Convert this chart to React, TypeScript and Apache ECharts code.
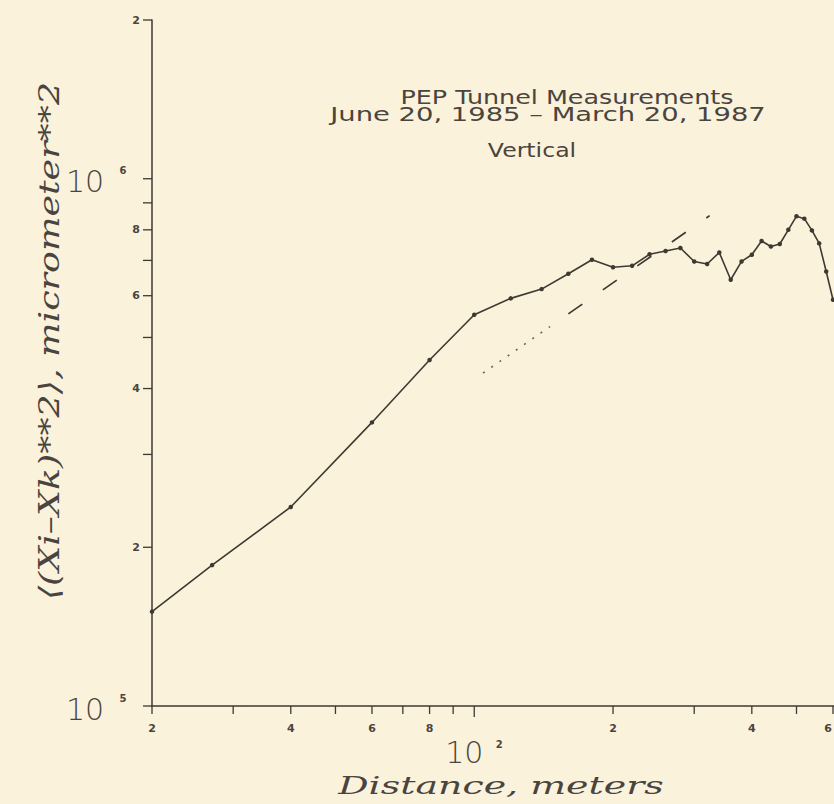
import React, { useEffect, useRef } from "react";
import * as echarts from "echarts";

// ---- data ----
const distances = [20, 27, 40, 60, 80, 100, 120, 140, 160, 180, 200, 220, 240, 260, 280, 300, 320, 340, 360, 380, 400, 420, 440, 460, 480, 500, 520, 540, 560, 580, 600];
const meanSq = [151000, 185000, 238500, 345000, 453000, 552000, 593000, 617600, 660500, 702000, 679300, 683700, 719000, 729300, 738900, 696800, 689200, 724600, 643300, 696800, 717500, 762000, 744000, 752000, 800000, 849000, 840000, 798000, 754000, 667000, 589500];

const fitDottedX = [104.5, 146];
const fitDottedY = [427900, 524400];
const fitDashedX = [160, 324];
const fitDashedY = [554300, 851000];

const X_MIN = 20;
const X_MAX = 603;
const Y_MIN = 100000;
const Y_MAX = 2000000;

const xTickValues = [20, 30, 40, 50, 60, 70, 80, 90, 100, 200, 300, 400, 500, 600];
const xTickLabels = ["2", "", "4", "", "6", "", "8", "", "", "2", "", "4", "", "6"];
const yTickValues = [100000, 200000, 300000, 400000, 500000, 600000, 700000, 800000, 900000, 1000000, 2000000];
const yTickLabels = ["", "2", "", "4", "", "6", "", "8", "", "", "2"];
const xDecades = [100];
const xDecadeExp = ["2"];
const yDecades = [100000, 1000000];
const yDecadeExp = ["5", "6"];

const titleLines = ["PEP Tunnel Measurements", "June 20, 1985 \u2013 March 20, 1987", "Vertical"];
const yAxisTitle = "\u27E8(Xi\u2013Xk)**2\u27E9, micrometer**2";
const xAxisTitle = "Distance, meters";

const INK = "#3f3933";
const TEXT = "#4a443e";
const BG = "#faf2db";

export default function App() {
  const ref = useRef<HTMLDivElement>(null);

  useEffect(() => {
    if (!ref.current) return;
    const chart = echarts.init(ref.current, null, { renderer: "svg" });

    const smallFont = 'bold 11px "DejaVu Sans", sans-serif';
    const supFont = 'bold 10px "DejaVu Sans", sans-serif';
    const bigFont = '200 30px "DejaVu Sans", sans-serif';

    const yTickRender = (params: any, api: any) => {
      const i = params.dataIndex;
      const p = api.coord([api.value(0), api.value(1)]);
      const children: any[] = [
        { type: "line", shape: { x1: p[0] - 9, y1: p[1], x2: p[0], y2: p[1] }, style: { stroke: INK, lineWidth: 1.3 } },
      ];
      if (yTickLabels[i]) {
        children.push({
          type: "text", x: p[0] - 12, y: p[1],
          style: { text: yTickLabels[i], align: "right", verticalAlign: "middle", textAlign: "right", textVerticalAlign: "middle", font: smallFont, fill: TEXT },
        });
      }
      return { type: "group", children };
    };

    const xTickRender = (params: any, api: any) => {
      const i = params.dataIndex;
      const p = api.coord([api.value(0), api.value(1)]);
      const len = xTickValues[i] === 100 ? 11 : 8;
      const children: any[] = [
        { type: "line", shape: { x1: p[0], y1: p[1], x2: p[0], y2: p[1] + len }, style: { stroke: INK, lineWidth: 1.3 } },
      ];
      if (xTickLabels[i]) {
        children.push({
          type: "text", x: Math.min(p[0], 828), y: p[1] + 22,
          style: { text: xTickLabels[i], align: "center", verticalAlign: "middle", textAlign: "center", textVerticalAlign: "middle", font: smallFont, fill: TEXT },
        });
      }
      return { type: "group", children };
    };

    const yDecadeRender = (params: any, api: any) => {
      const i = params.dataIndex;
      const p = api.coord([api.value(0), api.value(1)]);
      return {
        type: "group",
        children: [
          { type: "text", x: p[0] - 67, y: p[1] + 3, style: { text: "10", align: "center", verticalAlign: "middle", textAlign: "center", textVerticalAlign: "middle", font: bigFont, fill: TEXT } },
          { type: "text", x: p[0] - 29, y: p[1] - 8, style: { text: yDecadeExp[i], align: "center", verticalAlign: "middle", textAlign: "center", textVerticalAlign: "middle", font: supFont, fill: TEXT } },
        ],
      };
    };

    const xDecadeRender = (params: any, api: any) => {
      const i = params.dataIndex;
      const p = api.coord([api.value(0), api.value(1)]);
      return {
        type: "group",
        children: [
          { type: "text", x: p[0] - 10, y: p[1] + 46, style: { text: "10", align: "center", verticalAlign: "middle", textAlign: "center", textVerticalAlign: "middle", font: bigFont, fill: TEXT } },
          { type: "text", x: p[0] + 25, y: p[1] + 38, style: { text: xDecadeExp[i], align: "center", verticalAlign: "middle", textAlign: "center", textVerticalAlign: "middle", font: supFont, fill: TEXT } },
        ],
      };
    };

    const titleFont = '20px "DejaVu Sans", sans-serif';
    const titleCfg = [
      { x: 567, y: 97.5, sx: 1.27 },
      { x: 548, y: 114.5, sx: 1.37 },
      { x: 532, y: 150, sx: 1.18 },
    ];

    const option: any = {
      animation: false,
      backgroundColor: BG,
      grid: { left: 152, right: 0, top: 20, bottom: 98, containLabel: false },
      xAxis: {
        type: "log", logBase: 10, min: X_MIN, max: X_MAX,
        axisLine: { show: true, onZero: false, lineStyle: { color: INK, width: 1.5 } },
        axisTick: { show: false }, axisLabel: { show: false }, splitLine: { show: false }, minorTick: { show: false },
      },
      yAxis: {
        type: "log", logBase: 10, min: Y_MIN, max: Y_MAX,
        axisLine: { show: true, onZero: false, lineStyle: { color: INK, width: 1.5 } },
        axisTick: { show: false }, axisLabel: { show: false }, splitLine: { show: false }, minorTick: { show: false },
      },
      graphic: [
        ...titleLines.map((t, i) => ({
          type: "text", x: titleCfg[i].x, y: titleCfg[i].y, scaleX: titleCfg[i].sx,
          style: { text: t, font: titleFont, fill: TEXT, align: "center", verticalAlign: "middle", textAlign: "center", textVerticalAlign: "middle" },
        })),
        {
          type: "text", x: 50, y: 341, rotation: Math.PI / 2, scaleX: 1.3,
          style: { text: yAxisTitle, font: 'italic 28px "DejaVu Serif", serif', fill: TEXT, align: "center", verticalAlign: "middle", textAlign: "center", textVerticalAlign: "middle" },
        },
        {
          type: "text", x: 501, y: 786, scaleX: 1.58,
          style: { text: xAxisTitle, font: 'italic 24px "DejaVu Serif", serif', fill: TEXT, align: "center", verticalAlign: "middle", textAlign: "center", textVerticalAlign: "middle" },
        },
      ],
      series: [
        {
          type: "line", name: "fit-dotted",
          data: fitDottedX.map((x, i) => [x, fitDottedY[i]]),
          symbol: "none", silent: true,
          lineStyle: { color: "#6a625a", width: 1.6, type: [2, 8] },
          z: 2,
        },
        {
          type: "line", name: "fit-dashed",
          data: fitDashedX.map((x, i) => [x, fitDashedY[i]]),
          symbol: "none", silent: true,
          lineStyle: { color: INK, width: 1.7, type: [17, 25] },
          z: 2,
        },
        {
          type: "line", name: "measured",
          data: distances.map((x, i) => [x, meanSq[i]]),
          symbol: "circle", symbolSize: 4.5, showSymbol: true,
          lineStyle: { color: INK, width: 1.6 },
          itemStyle: { color: INK },
          z: 3,
        },
        {
          type: "custom", name: "yticks", coordinateSystem: "cartesian2d",
          data: yTickValues.map((v) => [X_MIN, v]), renderItem: yTickRender, silent: true, clip: false, z: 4,
        },
        {
          type: "custom", name: "xticks", coordinateSystem: "cartesian2d",
          data: xTickValues.map((v) => [v, Y_MIN]), renderItem: xTickRender, silent: true, clip: false, z: 4,
        },
        {
          type: "custom", name: "ydecades", coordinateSystem: "cartesian2d",
          data: yDecades.map((v) => [X_MIN, v]), renderItem: yDecadeRender, silent: true, clip: false, z: 4,
        },
        {
          type: "custom", name: "xdecades", coordinateSystem: "cartesian2d",
          data: xDecades.map((v) => [v, Y_MIN]), renderItem: xDecadeRender, silent: true, clip: false, z: 4,
        },
      ],
    };

    chart.setOption(option);
    return () => chart.dispose();
  }, []);

  return (
    <div
      ref={ref}
      style={{ position: "absolute", left: 0, top: 0, width: 834, height: 804, background: BG }}
    />
  );
}
